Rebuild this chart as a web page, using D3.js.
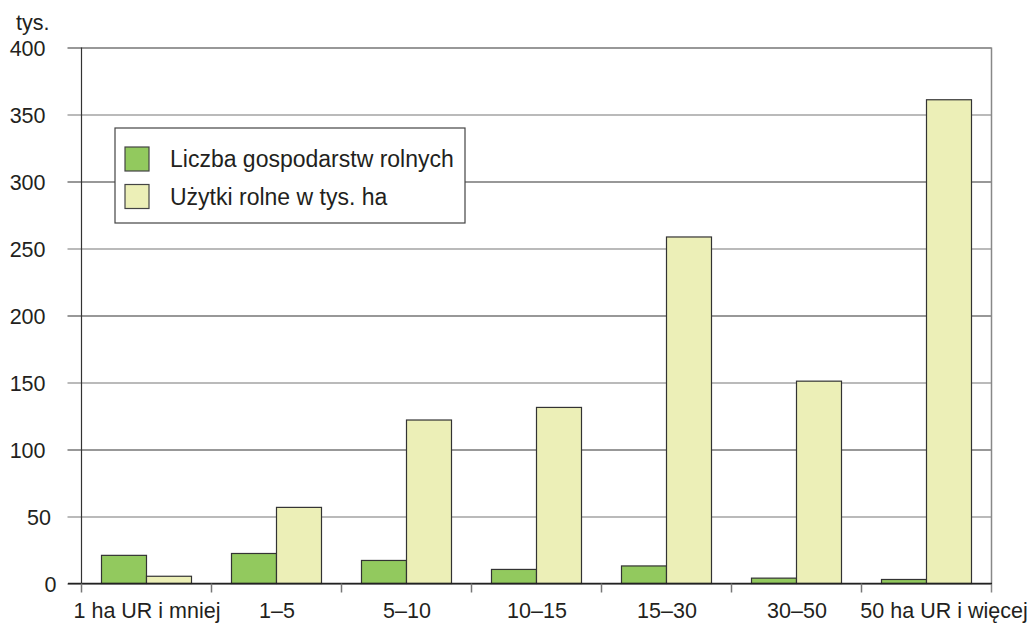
<!DOCTYPE html>
<html>
<head>
<meta charset="utf-8">
<script src="https://cdn.jsdelivr.net/npm/d3@7"></script>
<style>
  body { margin: 0; background: #fff; }
  text { font-family: "Liberation Sans", Arial, sans-serif; fill: #231f20; }
</style>
</head>
<body>
<script>
var categories = ["1 ha UR i mniej", "1–5", "5–10", "10–15", "15–30", "30–50", "50 ha UR i więcej"];
var farms = [21, 22.4, 17.2, 10.5, 13.1, 4, 3];          // Liczba gospodarstw rolnych
var land = [5.4, 56.8, 122, 131.4, 258.6, 151, 361];       // Użytki rolne w tys. ha
var seriesNames = ["Liczba gospodarstw rolnych", "Użytki rolne w tys. ha"];
var seriesColors = ["#92c95e", "#ecefb7"];
var yTicks = [0, 50, 100, 150, 200, 250, 300, 350, 400];

var width = 1035, height = 624;
var plotLeft = 82, plotRight = 992, plotTop = 47.5, plotBottom = 583.5;
var fontSize = "21.5px";

var svg = d3.select("body").append("svg")
    .attr("width", width)
    .attr("height", height);

var x = d3.scaleBand()
    .domain(categories)
    .range([plotLeft, plotRight]);

var x1 = d3.scaleBand()
    .domain([0, 1])
    .range([19.5, 109.5]);

var y = d3.scaleLinear()
    .domain([0, 400])
    .range([plotBottom, plotTop]);

// gridlines + y labels
var yAxis = svg.append("g")
    .attr("transform", "translate(" + (plotLeft - 0.5) + ",0)")
    .call(d3.axisLeft(y).tickValues(yTicks).tickSize(-(plotRight - plotLeft)).tickSizeOuter(0).tickPadding(0));
yAxis.select(".domain").remove();
yAxis.selectAll(".tick line")
    .attr("x1", -14)
    .attr("stroke", function(d) { return d % 100 == 0 ? "#333" : "#777"; })
    .attr("stroke-width", 1.2);
yAxis.selectAll(".tick text")
    .attr("x", function(d) { return -36 + (3 - String(d).length) * 5.5; })
    .attr("dy", "0.36em")
    .style("font-size", fontSize)
    .style("font-family", "Liberation Sans, Arial, sans-serif")
    .attr("fill", "#231f20");

// left axis line and right border
svg.append("line")
    .attr("x1", plotLeft - 0.5).attr("x2", plotLeft - 0.5)
    .attr("y1", plotTop).attr("y2", plotBottom)
    .attr("stroke", "#333").attr("stroke-width", 1.2);
svg.append("line")
    .attr("x1", plotRight - 0.5).attr("x2", plotRight - 0.5)
    .attr("y1", plotTop).attr("y2", plotBottom + 9)
    .attr("stroke", "#888").attr("stroke-width", 1.5);

// bars
var groups = svg.append("g")
    .selectAll("g")
    .data(categories)
    .enter().append("g")
    .attr("transform", function(d) { return "translate(" + x(d) + ",0)"; });

groups.selectAll("rect")
    .data(function(d, i) { return [farms[i], land[i]]; })
    .enter().append("rect")
    .attr("x", function(d, j) { return x1(j); })
    .attr("width", x1.bandwidth())
    .attr("y", function(d) { return y(d); })
    .attr("height", function(d) { return plotBottom - y(d); })
    .attr("fill", function(d, j) { return seriesColors[j]; })
    .attr("stroke", "#333")
    .attr("stroke-width", 1.2);

// x axis
var xAxis = svg.append("g")
    .attr("transform", "translate(0," + plotBottom + ")")
    .call(d3.axisBottom(x).tickSize(0).tickPadding(19));
xAxis.select(".domain").remove();
xAxis.selectAll(".tick text")
    .attr("dx", function(d, i) { return i == categories.length - 1 ? 17 : 0; })
    .style("font-size", fontSize)
    .style("font-family", "Liberation Sans, Arial, sans-serif")
    .attr("fill", "#231f20");

svg.append("line")
    .attr("x1", plotLeft - 14).attr("x2", plotRight)
    .attr("y1", plotBottom).attr("y2", plotBottom)
    .attr("stroke", "#222").attr("stroke-width", 1.4);

// category separators
svg.append("g")
    .selectAll("line")
    .data(categories)
    .enter().append("line")
    .attr("x1", function(d) { return x(d) - 0.5; })
    .attr("x2", function(d) { return x(d) - 0.5; })
    .attr("y1", plotBottom).attr("y2", plotBottom + 9)
    .attr("stroke", "#777").attr("stroke-width", 1.5);

// unit label
svg.append("text")
    .attr("x", 16).attr("y", 30)
    .style("font-size", fontSize)
    .text("tys.");

// legend
var legend = svg.append("g").attr("transform", "translate(115,128)");
legend.append("rect")
    .attr("width", 350).attr("height", 95)
    .attr("fill", "#fff")
    .attr("stroke", "#444").attr("stroke-width", 1.2);
var item = legend.selectAll(".item")
    .data(seriesNames)
    .enter().append("g")
    .attr("class", "item")
    .attr("transform", function(d, i) { return "translate(10," + (19 + i * 37.5) + ")"; });
item.append("rect")
    .attr("width", 24).attr("height", 24)
    .attr("fill", function(d, i) { return seriesColors[i]; })
    .attr("stroke", "#444").attr("stroke-width", 1.2);
item.append("text")
    .attr("x", 45).attr("y", 20)
    .style("font-size", "23px")
    .text(function(d) { return d; });
</script>
</body>
</html>
